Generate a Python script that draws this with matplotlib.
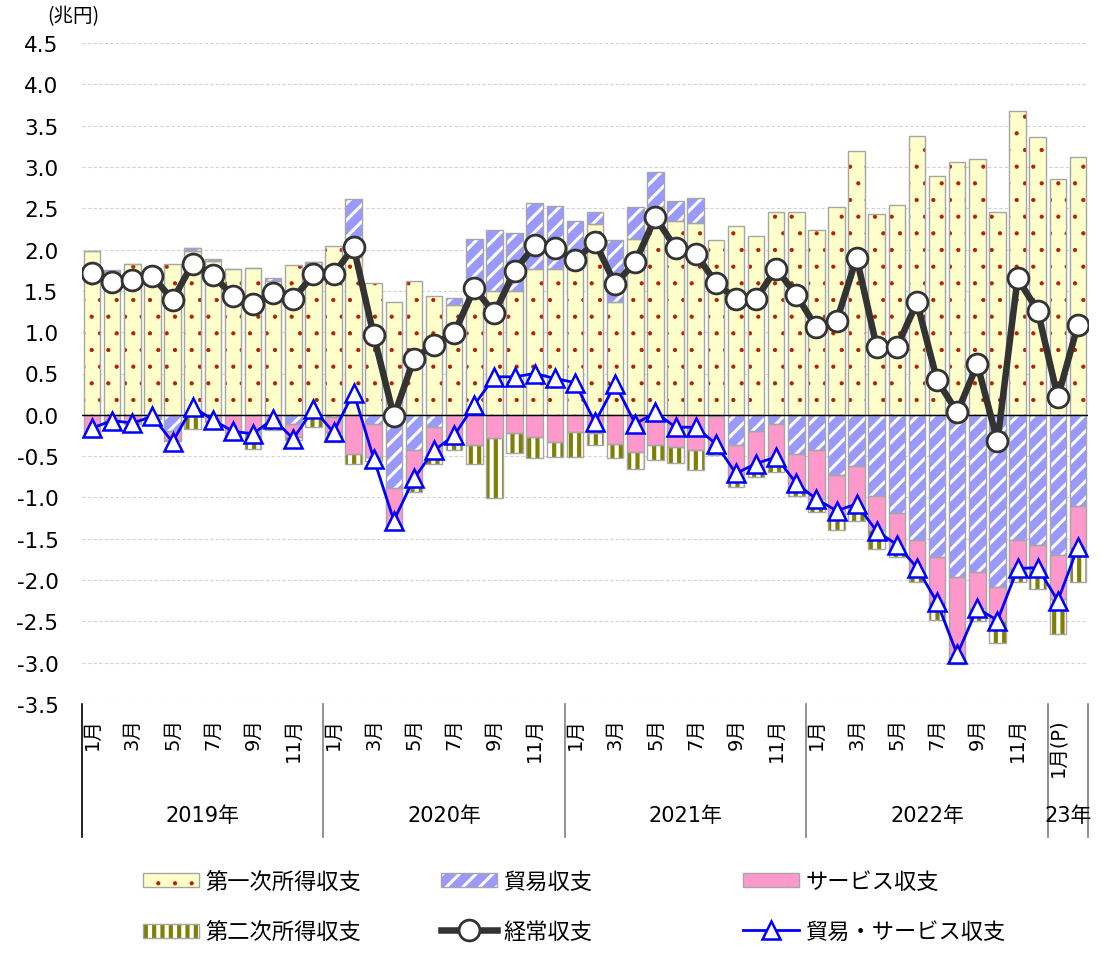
import matplotlib
matplotlib.use('Agg')
import matplotlib.pyplot as plt
import numpy as np
import matplotlib.transforms as mtransforms
from matplotlib.legend_handler import HandlerTuple
from matplotlib.patches import Rectangle

plt.rcParams['font.family'] = ['DejaVu Sans', 'Noto Sans CJK JP']

# ---------------- data (兆円) ----------------
years = ['2019年', '2020年', '2021年', '2022年', '23年']
year_counts = [12, 12, 12, 12, 2]
month_labels = (['1月', '', '3月', '', '5月', '', '7月', '', '9月', '', '11月', ''] * 4
                + ['1月(P)', ''])

primary = [1.98, 1.72, 1.82, 1.78, 1.82, 1.98, 1.86, 1.77, 1.78, 1.62, 1.81, 1.81,
           2.04, 1.91, 1.60, 1.37, 1.62, 1.44, 1.33, 1.52, 1.50, 1.50, 1.77, 1.76,
           1.77, 2.31, 1.36, 2.13, 2.52, 2.35, 2.32, 2.12, 2.28, 2.16, 2.46, 2.45,
           2.24, 2.52, 3.19, 2.43, 2.54, 3.37, 2.89, 3.06, 3.10, 2.45, 3.68, 3.36,
           2.86, 3.12]
trade = [0.00, 0.03, 0.00, 0.00, -0.20, 0.04, 0.02, 0.00, 0.00, 0.04, -0.11, 0.04,
         -0.03, 0.70, -0.11, -0.89, -0.43, -0.15, 0.08, 0.61, 0.74, 0.70, 0.79, 0.77,
         0.58, 0.15, 0.75, 0.38, 0.42, 0.24, 0.30, -0.02, -0.36, -0.20, -0.11, -0.48,
         -0.42, -0.73, -0.62, -0.98, -1.19, -1.52, -1.72, -1.96, -1.90, -2.08, -1.52, -1.57,
         -1.70, -1.10]
services = [-0.24, -0.06, -0.09, -0.03, -0.10, 0.00, -0.07, -0.25, -0.21, -0.06, -0.16, 0.00,
            -0.18, -0.47, -0.40, -0.45, -0.44, -0.38, -0.35, -0.37, -0.28, -0.22, -0.27, -0.33,
            -0.21, -0.22, -0.35, -0.45, -0.37, -0.39, -0.43, -0.38, -0.41, -0.47, -0.48, -0.42,
            -0.60, -0.47, -0.48, -0.42, -0.45, -0.38, -0.53, -0.93, -0.44, -0.41, -0.34, -0.28,
            -0.53, -0.50]
secondary = [-0.02, -0.03, -0.02, -0.02, -0.02, -0.17, -0.02, -0.06, -0.20, -0.12, -0.03, -0.15,
             -0.12, -0.12, -0.05, -0.03, -0.07, -0.07, -0.07, -0.23, -0.73, -0.24, -0.25, -0.18,
             -0.30, -0.15, -0.17, -0.20, -0.18, -0.19, -0.24, -0.09, -0.10, -0.08, -0.10, -0.08,
             -0.16, -0.20, -0.19, -0.22, -0.08, -0.12, -0.23, -0.12, -0.16, -0.27, -0.16, -0.26,
             -0.42, -0.42]
current_account = [1.72, 1.61, 1.63, 1.68, 1.39, 1.83, 1.69, 1.44, 1.34, 1.47, 1.40, 1.70,
                   1.70, 2.03, 0.96, -0.02, 0.68, 0.85, 0.99, 1.53, 1.23, 1.74, 2.05, 2.02,
                   1.87, 2.09, 1.58, 1.85, 2.39, 2.02, 1.95, 1.60, 1.40, 1.40, 1.77, 1.45,
                   1.06, 1.13, 1.90, 0.82, 0.82, 1.36, 0.42, 0.03, 0.61, -0.32, 1.65, 1.26,
                   0.21, 1.09]
trade_services = [-0.16, -0.07, -0.10, -0.02, -0.33, 0.10, -0.06, -0.20, -0.23, -0.05, -0.29, 0.07,
                  -0.21, 0.27, -0.53, -1.28, -0.77, -0.43, -0.25, 0.12, 0.46, 0.46, 0.50, 0.44,
                  0.39, -0.09, 0.37, -0.11, 0.03, -0.15, -0.15, -0.35, -0.71, -0.59, -0.51, -0.83,
                  -1.02, -1.16, -1.08, -1.41, -1.57, -1.85, -2.27, -2.90, -2.34, -2.49, -1.86, -1.85,
                  -2.25, -1.60]

# ---------------- figure ----------------
W, H = 1100, 954
fig = plt.figure(figsize=(W / 100, H / 100), dpi=100)
ax = fig.add_axes([82 / W, 1 - 705 / H, 1006 / W, 661 / H])

n = len(primary)
x = np.arange(n)
width = 0.82

styles = [
    ('第一次所得収支', primary, dict(face='#FFFFCC', hcol='#B22200', hatch='.', hlw=0.6)),
    ('貿易収支', trade, dict(face='#9999FF', hcol='white', hatch='//', hlw=2.2)),
    ('サービス収支', services, dict(face='#FF99CC', hcol='#FF99CC', hatch=None, hlw=1.0)),
    ('第二次所得収支', secondary, dict(face='white', hcol='#808000', hatch='||', hlw=3.0)),
]
hatch_lw = {st['hatch']: st['hlw'] for _, _, st in styles if st['hatch']}


def set_hlw(patches, lw):
    for p in patches:
        if hasattr(p, 'set_hatch_linewidth'):
            p.set_hatch_linewidth(lw)


pos = np.zeros(n)
neg = np.zeros(n)
bar_handles = {}
for label, vals, st in styles:
    v = np.array(vals, dtype=float)
    bottom = np.where(v >= 0, pos, neg)
    with plt.rc_context({'hatch.linewidth': st['hlw'], 'hatch.color': st['hcol']}):
        b1 = ax.bar(x, v, bottom=bottom, width=width, facecolor=st['face'],
                    edgecolor=st['hcol'], hatch=st['hatch'], linewidth=0, zorder=2)
    set_hlw(b1.patches, st['hlw'])
    b2 = ax.bar(x, v, bottom=bottom, width=width, facecolor='none',
                edgecolor='#A6A6A6', linewidth=1.0, zorder=2.1)
    bar_handles[label] = (b1, b2)
    pos += np.where(v >= 0, v, 0)
    neg += np.where(v < 0, v, 0)

ax.axhline(0, color='black', lw=1.0, zorder=3)

ca_line, = ax.plot(x, current_account, color='#333333', lw=4.7, marker='o', ms=15,
                   mfc='white', mec='#333333', mew=2.0, zorder=5)
ts_line, = ax.plot(x, trade_services, color='#0000FF', lw=2.0, marker='^', ms=13,
                   mfc='white', mec='#0000FF', mew=1.8, zorder=6)

# axes
ax.set_xlim(-0.5, n - 0.5)
ax.set_ylim(-3.5, 4.5)
yt = np.round(np.arange(-3.5, 4.51, 0.5), 1)
ax.set_yticks(yt)
ax.set_yticklabels([f'{v:.1f}' for v in yt], fontsize=15.5, family='DejaVu Sans')
ax.yaxis.grid(True, color='#D3D3D3', linestyle=(0, (3, 2)), lw=0.8)
ax.set_axisbelow(True)
ax.tick_params(axis='y', length=0, pad=17)
for s in ax.spines.values():
    s.set_visible(False)

ax.set_xticks(x)
ax.set_xticklabels(month_labels, rotation=90, fontsize=14)
ax.tick_params(axis='x', length=0, pad=9.5)

# category separators and year labels
trans = mtransforms.blended_transform_factory(ax.transData, ax.transAxes)
bounds = np.concatenate([[0], np.cumsum(year_counts)]) - 0.5
for k, bx in enumerate(bounds):
    ax.plot([bx, bx], [0, -0.201], transform=trans, clip_on=False,
            color='black' if k == 0 else '#7F7F7F', lw=1.2, zorder=1)
for k, yl in enumerate(years):
    cx = (bounds[k] + bounds[k + 1]) / 2
    ax.text(cx, -0.168, yl, transform=trans, ha='center', va='center', fontsize=15)

fig.text(73 / W, 1 - 17 / H, '(兆円)', ha='center', va='center', fontsize=14,
         family=['Noto Sans CJK JP'])

# legends (three columns, two rows)
leg_kw = dict(loc='upper left', frameon=False, fontsize=16, handlelength=2.5,
              handleheight=0.6, handletextpad=0.32, borderpad=0, borderaxespad=0,
              labelspacing=1.32, handler_map={tuple: HandlerTuple(ndivide=1)})
cols = [
    (143, [bar_handles['第一次所得収支'], bar_handles['第二次所得収支']], ['第一次所得収支', '第二次所得収支']),
    (441, [bar_handles['貿易収支'], ca_line], ['貿易収支', '経常収支']),
    (743, [bar_handles['サービス収支'], ts_line], ['サービス収支', '貿易・サービス収支']),
]
for xpx, hs, ls in cols:
    leg = fig.legend(hs, ls, bbox_to_anchor=(xpx / W, 1 - 872 / H), **leg_kw)
    for p in leg.findobj(Rectangle):
        h = p.get_hatch()
        if h in hatch_lw:
            set_hlw([p], hatch_lw[h])

fig.savefig('out.png', dpi=100)
